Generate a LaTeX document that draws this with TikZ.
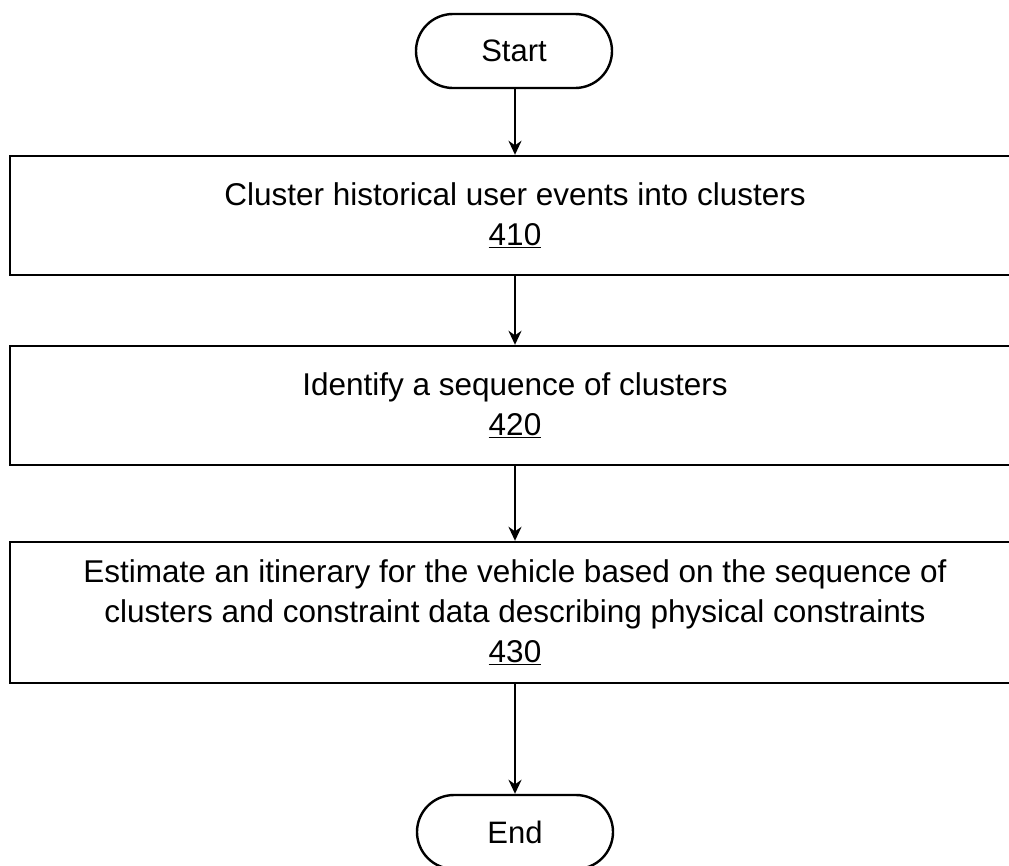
\documentclass[tikz,border=0pt]{standalone}
\usepackage{fontspec}
\setmainfont{Liberation Sans}
\usetikzlibrary{arrows.meta}
\usetikzlibrary{shapes}

\begin{document}
\begin{tikzpicture}[x = 1pt, y = -1pt]
	\tikzstyle{termStyle} = [shape = rectangle, rounded corners = 37pt, draw, line width = 2.4pt, minimum width = 196pt, minimum height = 74pt, inner sep = 0pt, font = \fontsize{31}{40}\selectfont]
	\tikzstyle{stepStyle} = [shape = rectangle, draw, line width = 2.4pt, minimum width = 1010pt, inner sep = 0pt, align = center, font = \fontsize{31.5}{40}\selectfont]
	\tikzstyle{flowStyle} = [line width = 2.4pt, -{Stealth[length = 14pt, width = 13pt]}]
	\useasboundingbox (0, 0) rectangle (1009, 865);
	\clip (0, 0) rectangle (1009, 865);
	\node[termStyle] (start) at (514, 51) {Start};
	\node[stepStyle, minimum height = 119pt] (s410) at (515, 215.5) {Cluster historical user events into clusters\\\underline{410}};
	\node[stepStyle, minimum height = 119pt] (s420) at (515, 405.5) {Identify a sequence of clusters\\\underline{420}};
	\node[stepStyle, minimum height = 141pt] (s430) at (515, 612.5) {Estimate an itinerary for the vehicle based on the sequence of\\clusters and constraint data describing physical constraints\\\underline{430}};
	\node[termStyle] (end) at (515, 832) {End};
	\draw[flowStyle] (start.south -| s410.north) -- (s410.north);
	\draw[flowStyle] (s410) -- (s420);
	\draw[flowStyle] (s420) -- (s430);
	\draw[flowStyle] (s430) -- (end);
\end{tikzpicture}
\end{document}
